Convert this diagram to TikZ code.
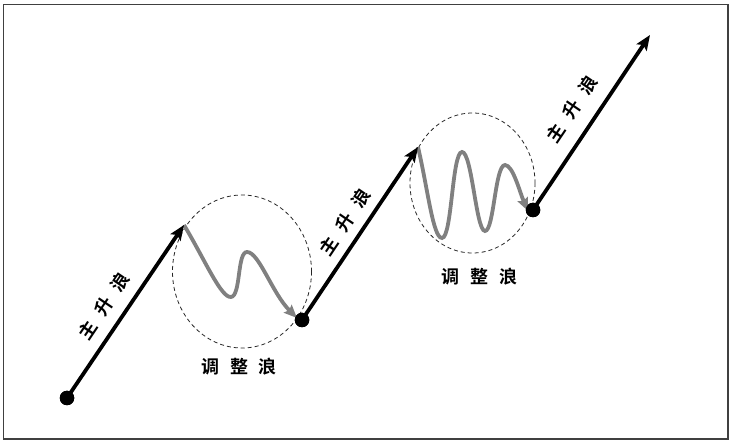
\documentclass[tikz,border=0pt]{standalone}
\usepackage{fontspec}
\newfontfamily\cjk{Noto Sans CJK SC Bold}
\usetikzlibrary{arrows.meta}
\tikzset{
  mainarrow/.style={line width=3.8pt, black, -{Stealth[length=15pt,width=12pt,inset=3pt]}},
  wavearrow/.style={line width=3.8pt, black!50, -{Stealth[length=13pt,width=11pt,inset=2pt]}},
  dotnode/.style={circle, fill=black, inner sep=0pt, minimum size=14.5pt},
  zone/.style={dashed, dash pattern=on 4pt off 3pt, line width=0.8pt, black!85},
  lbl/.style={font=\cjk\fontsize{18pt}{18pt}\selectfont, inner sep=0pt},
  frame/.style={line width=1.3pt, black!75}
}
\newcommand{\spc}{\hspace{11pt}}
\begin{document}
\begin{tikzpicture}[x=1pt,y=-1pt]
\useasboundingbox (0,0) rectangle (734,446);
\draw[frame] (3.5,4.5) rectangle (728,439);
% zones
\draw[zone] (242,271.5) ellipse [x radius=69.5, y radius=76.5];
\draw[zone] (472.5,183) ellipse [x radius=62.5, y radius=70];
% key points
\node[dotnode] (d1) at (67,398) {};
\node[dotnode] (d2) at (302,320) {};
\node[dotnode] (d3) at (533,210) {};
\coordinate (t1) at (184,225);
\coordinate (t2) at (418,147);
\coordinate (t3) at (650,35);
\coordinate (w1) at (297,318);
\coordinate (w2) at (528,211);
% corrective waves
\draw[wavearrow] (t1) .. controls (205,260) and (221,298) .. (231,297)
  .. controls (241,296) and (237,252) .. (247,252)
  .. controls (259,252) and (272,293) .. (w1);
\draw[wavearrow] (t2) .. controls (428,190) and (433,238) .. (442,238)
  .. controls (452,238) and (452,152) .. (462,152)
  .. controls (472,152) and (476,231) .. (485,231)
  .. controls (494,231) and (495,165) .. (505,165)
  .. controls (513,165) and (520,193) .. (w2);
% main waves
\draw[mainarrow] (d1.center) -- (t1);
\draw[mainarrow] (d2.center) -- (t2);
\draw[mainarrow] (d3.center) -- (t3);
\node[dotnode] at (d1) {};
\node[dotnode] at (d2) {};
\node[dotnode] at (d3) {};
% labels
\node[lbl, rotate=56] (m1) at (104,306) {主\spc 升\spc 浪};
\node[lbl, rotate=56] (m2) at (345,222) {主\spc 升\spc 浪};
\node[lbl, rotate=56] (m3) at (572,109) {主\spc 升\spc 浪};
\node[lbl] (c1) at (239,367) {调\spc 整\spc 浪};
\node[lbl] (c2) at (479,277) {调\spc 整\spc 浪};
\end{tikzpicture}
\end{document}
